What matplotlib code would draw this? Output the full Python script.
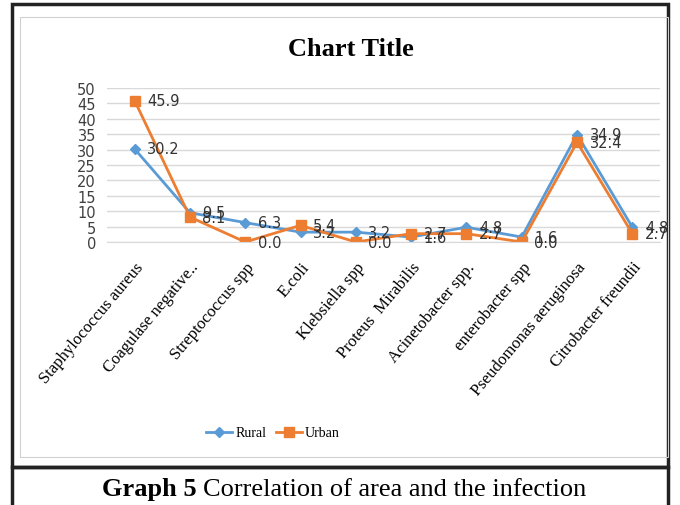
import matplotlib.pyplot as plt
from matplotlib.patches import Rectangle

# --- data ---
categories = ['Staphylococcus aureus', 'Coagulase negative..', 'Streptococcus spp',
              'E.coli', 'Klebsiella spp', 'Proteus  Mirabilis', 'Acinetobacter spp.',
              'enterobacter spp', 'Pseudomonas aeruginosa', 'Citrobacter freundii']
rural = [30.2, 9.5, 6.3, 3.2, 3.2, 1.6, 4.8, 1.6, 34.9, 4.8]
urban = [45.9, 8.1, 0.0, 5.4, 0.0, 2.7, 2.7, 0.0, 32.4, 2.7]
y_ticks = list(range(0, 51, 5))

RURAL_C = '#5B9BD5'
URBAN_C = '#ED7D31'
SERIF = 'Liberation Serif'

fig = plt.figure(figsize=(6.8, 5.06), dpi=100)

# frames around the chart and the caption
fig.patches.append(Rectangle((12 / 680, (506 - 468) / 506), 656 / 680, 463 / 506,
                             transform=fig.transFigure, fill=False, lw=2.5, ec='#222222'))
fig.patches.append(Rectangle((20 / 680, (506 - 458) / 506), 648 / 680, 440 / 506,
                             transform=fig.transFigure, fill=False, lw=0.8, ec='#D0D0D0'))
fig.patches.append(Rectangle((12 / 680, -0.01), 656 / 680, (506 - 468) / 506 + 0.01,
                             transform=fig.transFigure, fill=False, lw=2.5, ec='#222222'))

ax = fig.add_axes([107 / 680, (506 - 243) / 506, 553 / 680, 154 / 506])
x = list(range(len(categories)))
ax.plot(x, rural, color=RURAL_C, marker='D', markersize=5, lw=2, label='Rural')
ax.plot(x, urban, color=URBAN_C, marker='s', markersize=7, lw=2, label='Urban')

# data labels sit right of each point (they overlap in the original too)
for xi, v in zip(x, rural):
    ax.annotate(f'{v:.1f}', (xi, v), xytext=(9, 0), textcoords='offset points',
                va='center', ha='left', fontsize=10.5, color='#333333')
for xi, v in zip(x, urban):
    ax.annotate(f'{v:.1f}', (xi, v), xytext=(9, 0), textcoords='offset points',
                va='center', ha='left', fontsize=10.5, color='#333333')

ax.set_xlim(-0.5, len(categories) - 0.5)
ax.set_ylim(0, 50)
ax.set_yticks(y_ticks)
ax.set_xticks(x)
ax.set_xticklabels(categories, rotation=50, ha='right', rotation_mode='anchor',
                   family=SERIF, fontsize=12)
ax.tick_params(axis='y', labelsize=10.5, length=0, labelcolor='#404040', pad=8)
ax.tick_params(axis='x', length=0, pad=12)
ax.grid(axis='y', color='#D9D9D9', lw=1)
ax.set_axisbelow(True)
for s in ['top', 'right', 'left']:
    ax.spines[s].set_visible(False)
ax.spines['bottom'].set_color('#D9D9D9')

fig.text(351 / 680, (506 - 50) / 506, 'Chart Title', ha='center', va='center',
         family=SERIF, fontsize=19, fontweight='bold')

fig.legend(loc='center', bbox_to_anchor=(273 / 680, (506 - 434) / 506), ncol=2,
           frameon=False, prop={'family': SERIF, 'size': 10}, handlelength=1.9,
           columnspacing=0.7, handletextpad=0.2)

cap_y = (506 - 490) / 506
t1 = fig.text(102 / 680, cap_y, 'Graph 5', ha='left', va='center',
              family=SERIF, fontsize=19, fontweight='bold')
fig.canvas.draw()
bb = t1.get_window_extent()
fig.text((bb.x1 + 6) / 680, cap_y, 'Correlation of area and the infection',
         ha='left', va='center', family=SERIF, fontsize=19)

fig.savefig('out.png', dpi=100)
